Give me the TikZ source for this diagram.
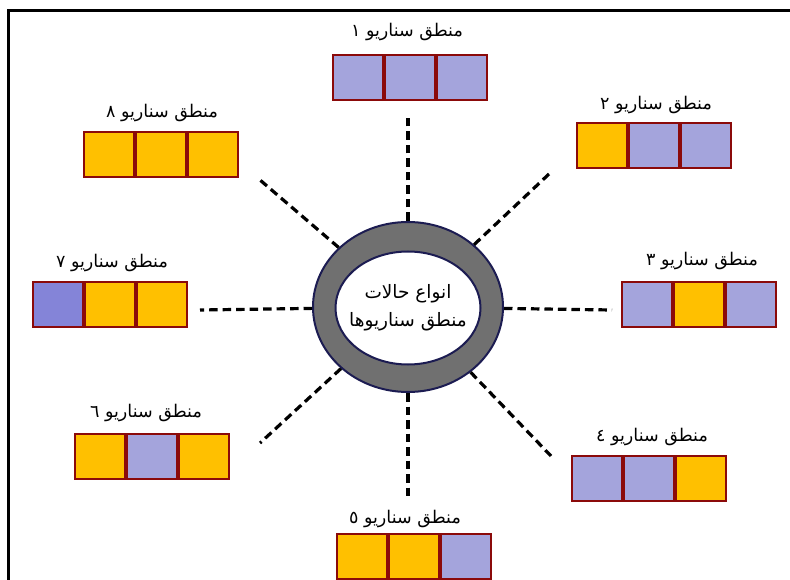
\documentclass[tikz,border=0pt]{standalone}
\usepackage{fontspec}
\usetikzlibrary{shapes.geometric}
\TeXXeTstate=1
\newfontfamily\arabicfont[Script=Arabic]{DejaVu Sans}
\definecolor{lav}{HTML}{A4A4DC}
\definecolor{gold}{HTML}{FFC000}
\definecolor{dlav}{HTML}{8484D8}
\definecolor{brd}{HTML}{8B0A0A}
\definecolor{ringgray}{HTML}{707070}
\definecolor{navy}{HTML}{1C1C52}
\tikzset{
  cell/.style={draw=brd, line width=2pt, minimum width=50pt, minimum height=45pt, inner sep=0pt},
  lbl/.style={font=\arabicfont\fontsize{17.5}{19}\selectfont, inner sep=1pt},
  dashline/.style={line width=3.2pt, dash pattern=on 8.5pt off 5pt},
}
\newcommand\scenbox[6]{%
  \node[cell, fill=#4, anchor=north west] (#1a) at (#2,#3) {};
  \node[cell, fill=#5, anchor=west] (#1b) at (#1a.east) {};
  \node[cell, fill=#6, anchor=west] (#1c) at (#1b.east) {};
}
\begin{document}
\begin{tikzpicture}[x=1pt, y=-1pt]
\useasboundingbox (0,0) rectangle (790,580);
% frame
\draw[line width=3pt] (8,582) -- (8,11) -- (792,11);
% central ring
\node[ellipse, draw=navy, line width=2pt, fill=ringgray, minimum width=190pt, minimum height=170pt, inner sep=0pt] (ring) at (408,307) {};
\node[ellipse, draw=navy, line width=2pt, fill=white, minimum width=145pt, minimum height=113pt, inner sep=0pt] (core) at (408,308) {};
\node[align=center, inner sep=0pt, font=\arabicfont\fontsize{18.5}{28}\selectfont] (ctext) at (core.center)
      {\beginR انواع حالات\endR\\\beginR منطق سناریوها\endR};
% scenario boxes
\scenbox{s1}{332}{54}{lav}{lav}{lav}
\scenbox{s2}{576}{122}{gold}{lav}{lav}
\scenbox{s3}{621}{281}{lav}{gold}{lav}
\scenbox{s4}{571}{455}{lav}{lav}{gold}
\scenbox{s5}{336}{533}{gold}{gold}{lav}
\scenbox{s6}{74}{433}{gold}{lav}{gold}
\scenbox{s7}{32}{281}{dlav}{gold}{gold}
\scenbox{s8}{83}{131}{gold}{gold}{gold}
% labels
\node[lbl] (l1) at (407,32) {\beginR منطق سناریو ١\endR};
\node[lbl] (l2) at (656,105) {\beginR منطق سناریو ٢\endR};
\node[lbl] (l3) at (702,261) {\beginR منطق سناریو ٣\endR};
\node[lbl] (l4) at (652,437) {\beginR منطق سناریو ٤\endR};
\node[lbl] (l5) at (405,519) {\beginR منطق سناریو ٥\endR};
\node[lbl] (l6) at (146,413) {\beginR منطق سناریو ٦\endR};
\node[lbl] (l7) at (112,263) {\beginR منطق سناریو ٧\endR};
\node[lbl] (l8) at (162,113) {\beginR منطق سناریو ٨\endR};
% free ends of dashed connectors
\coordinate (e1) at (408,118);
\coordinate (e2) at (549,174);
\coordinate (e3) at (612,310);
\coordinate (e4) at (551,456);
\coordinate (e5) at (408,500);
\coordinate (e6) at (260,443);
\coordinate (e7) at (200,310);
\coordinate (e8) at (260,180);
\foreach \i in {1,...,8} \draw[dashline] (ring) -- (e\i);
\end{tikzpicture}
\end{document}
